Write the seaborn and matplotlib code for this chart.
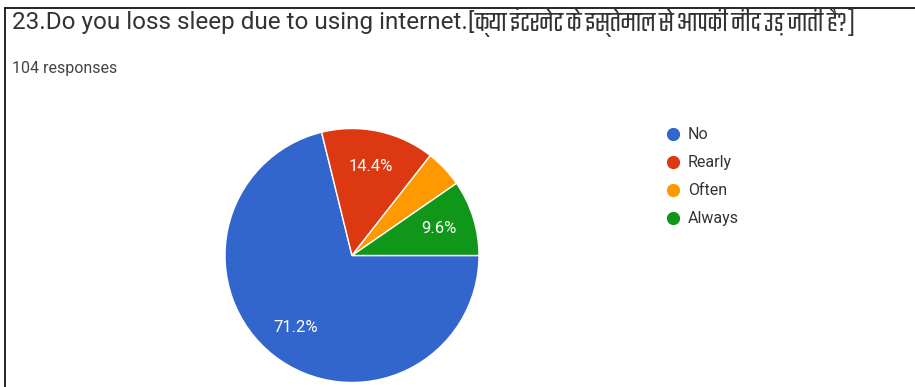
import matplotlib
matplotlib.use("Agg")
import matplotlib.pyplot as plt
from matplotlib import font_manager
from matplotlib.ft2font import FT2Font
from matplotlib.lines import Line2D
import seaborn as sns

# Survey answers (104 responses)
labels = ["No", "Rearly", "Often", "Always"]
counts = [74, 15, 5, 10]
colors = ["#3366cc", "#dc3912", "#ff9900", "#109618"]
title_en = "23.Do you loss sleep due to using internet.["
title_hi = "क्या इंटरनेट के इस्तेमाल से आपकी नींद उड़ जाती है?]"
subtitle = "104 responses"

sns.set_theme(style="white")
plt.rcParams["font.family"] = ["Roboto", "DejaVu Sans"]


def devanagari_families():
    names = []
    for f in font_manager.fontManager.ttflist:
        try:
            if 0x0915 in FT2Font(f.fname).get_charmap() and f.name not in names:
                names.append(f.name)
        except Exception:
            continue
    return names


W, H = 915, 387
fig = plt.figure(figsize=(W / 100, H / 100), dpi=100)
fig.patch.set_facecolor("white")
renderer = fig.canvas.get_renderer()

# frame lines along the top and left edge
fig.add_artist(Line2D([5 / W, 1], [1 - 8 / H, 1 - 8 / H], color="black", lw=1.2))
fig.add_artist(Line2D([5 / W, 5 / W], [0, 1 - 8 / H], color="black", lw=1.2))

# title: English part, then the Hindi part fitted into the remaining width
ty = 1 - 22 / H
fs_title = 17.5
t_en = fig.text(12 / W, ty, title_en, fontsize=fs_title, color="#333333",
                va="center", ha="left")
x_end = t_en.get_window_extent(renderer).x1

best = None
for name in devanagari_families():
    probe = fig.text(0, 0, title_hi, fontsize=fs_title, family=[name, "Roboto", "DejaVu Sans"])
    w = probe.get_window_extent(renderer).width
    probe.remove()
    if best is None or w < best[1]:
        best = (name, w)

hi_family = ([best[0]] if best else []) + ["Roboto", "DejaVu Sans"]
t_hi = fig.text(x_end / W, ty, title_hi, fontsize=fs_title, color="#333333",
                va="center", ha="left", family=hi_family)
w_hi = t_hi.get_window_extent(renderer).width
avail = 904 - x_end
t_hi.set_fontsize(fs_title * min(1.2, avail / w_hi))

fig.text(12 / W, 1 - 68 / H, subtitle, fontsize=11.5, color="#444444",
         va="center", ha="left")

cx, cy, r = 352, 255.5, 127
ax = fig.add_axes([(cx - r) / W, (H - cy - r) / H, 2 * r / W, 2 * r / H])


def pct(p):
    return f"{p:.1f}%" if p >= 5 else ""


wedges, texts, autotexts = ax.pie(
    counts,
    colors=colors,
    startangle=0,
    counterclock=False,
    autopct=pct,
    pctdistance=0.72,
    wedgeprops=dict(edgecolor="white", linewidth=1),
    textprops=dict(color="white", fontsize=12),
)
ax.set_xlim(-1, 1)
ax.set_ylim(-1, 1)
ax.set_aspect("auto")
ax.axis("off")

handles = [Line2D([], [], marker="o", linestyle="none", markersize=8.5,
                  markerfacecolor=c, markeredgecolor=c) for c in colors]
fig.legend(
    handles,
    labels,
    loc="upper left",
    bbox_to_anchor=(655 / W, 1 - 116 / H),
    frameon=False,
    handlelength=0.8,
    handletextpad=0.55,
    labelspacing=0.82,
    fontsize=11.5,
    labelcolor="#333333",
    borderpad=0.2,
)

fig.savefig("out.png", dpi=100, facecolor="white")
